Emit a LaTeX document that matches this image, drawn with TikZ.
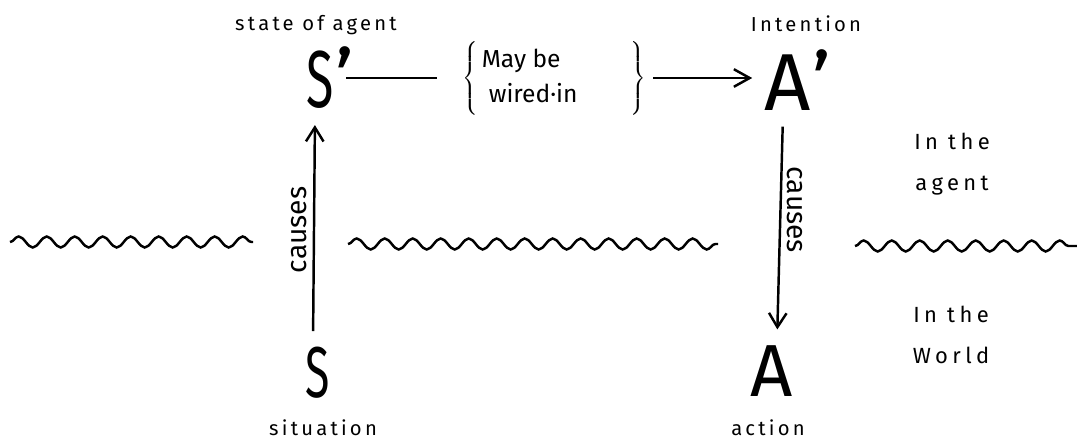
\documentclass[tikz,border=0pt]{standalone}
\usepackage{fontspec}
\setmainfont{Fira Sans}
\usetikzlibrary{arrows.meta,decorations.pathmorphing}

\tikzset{
  note/.style={font=\fontsize{11.5}{14}\selectfont\addfontfeature{LetterSpace=16}, inner sep=1pt},
  side/.style={font=\fontsize{12.5}{23}\selectfont\addfontfeature{LetterSpace=20}, align=center, inner sep=1pt},
  bigletter/.style={font=\fontsize{46}{48}\selectfont, inner sep=2pt},
  rel/.style={line width=1.4pt},
  causes/.style={rel, -{Straight Barb[length=8pt,width=10pt,line width=1.4pt]}, shorten <=7pt, shorten >=7pt},
  wave/.style={line width=1.4pt, decorate, decoration={snake, segment length=0.56cm, amplitude=0.11cm}}
}

\begin{document}
\begin{tikzpicture}[x=0.02cm,y=-0.02cm]
            \useasboundingbox (0,0) rectangle (1077,442);

            % Define the four states, in the agent and in the world
            \node[bigletter] (Sp) at (320,78) {\scalebox{0.62}[1]{S}\rlap{\kern1pt’}};
            \node[bigletter] (Ap) at (788,80) {A\rlap{\kern1pt’}};
            \node[bigletter, font=\fontsize{41}{44}\selectfont] (S) at (318,373) {\scalebox{0.62}[1]{S}};
            \node[bigletter, font=\fontsize{42}{44}\selectfont] (A) at (772,371) {A};

            \node[note] (stlab) at (316,25) {state of agent};
            \node[note] (intlab) at (806,24) {Intention};
            \node[note] (sitlab) at (323,428) {situation};
            \node[note] (actlab) at (768,428) {action};

            \node[font=\fontsize{14}{20}\selectfont, inner xsep=4pt] (wired) at (554,78)
                {$\left\{\hbox{\begin{tabular}{@{\,}l@{\hspace{30pt}}}May be\\ \hspace{4pt}wired·in\end{tabular}}\right\}$};

            \node[side] (agent) at (952,164) {In the\\agent};
            \node[side] (world) at (951,335) {In the\\World};

            % Connections
            \draw[rel, shorten <=5pt, shorten >=10pt] (Sp.east) -- (wired.west |- Sp.east);
            \draw[rel, -{Straight Barb[length=9pt,width=10pt,line width=1.4pt]}, shorten >=5pt] (wired.east) -- (Ap.west |- wired.east);
            \draw[causes] ([xshift=-0.1cm]S.north) -- node[font=\fontsize{16}{18}\selectfont, rotate=90, left=1pt, anchor=south] (c1) {causes} ([xshift=-0.1cm]Sp.south);
            \draw[causes] ([xshift=-0.1cm]Ap.south) -- node[font=\fontsize{16}{18}\selectfont, rotate=-90, pos=0.42, anchor=south] (c2) {causes} ([xshift=0.1cm]A.north);

            % Boundary between agent and world
            \coordinate (wl1) at (10,242);
            \coordinate (wl2) at (253,242);
            \coordinate (wm1) at (348,244);
            \coordinate (wm2) at (718,244);
            \coordinate (wr1) at (855,246);
            \coordinate (wr2) at (1077,246);
            \draw[wave] (wl1) -- (wl2);
            \draw[wave] (wm1) -- (wm2);
            \draw[wave] (wr1) -- (wr2);
        \end{tikzpicture}
\end{document}
